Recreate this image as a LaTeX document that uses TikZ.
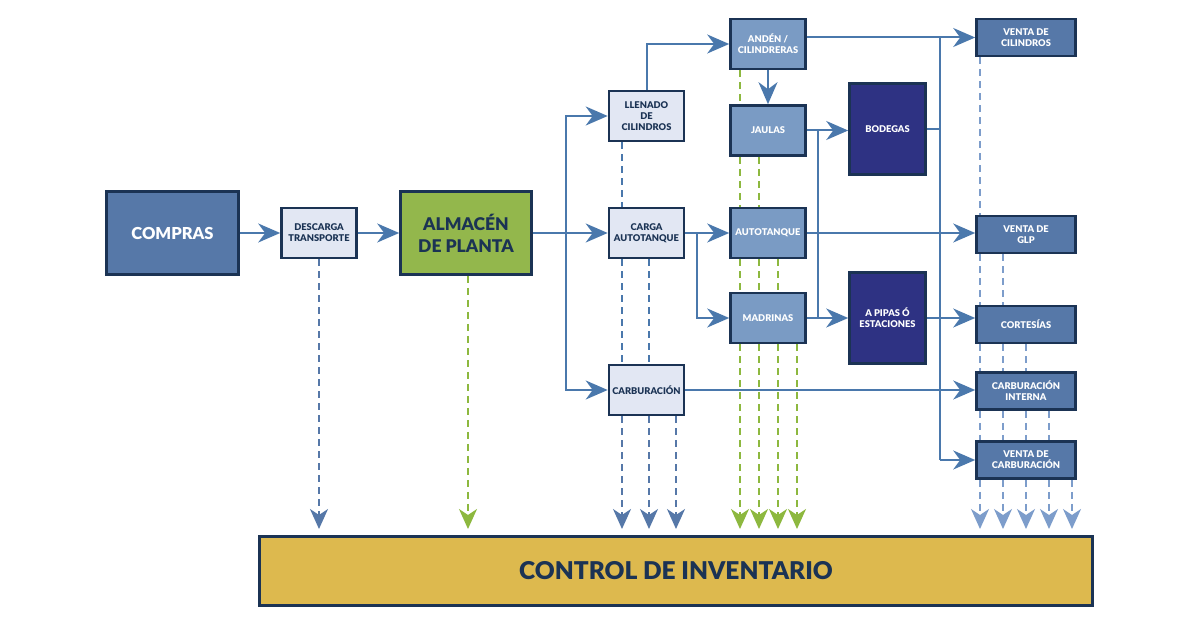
\documentclass[tikz,border=0pt]{standalone}
\usepackage{fontspec}
\setmainfont{Lato}[BoldFont={Lato Black}]
\usetikzlibrary{arrows.meta}
\definecolor{navy}{HTML}{1B3354}
\definecolor{mblue}{HTML}{5678A8}
\definecolor{lblue}{HTML}{7A9BC4}
\definecolor{pale}{HTML}{E2E7F3}
\definecolor{deep}{HTML}{2E3283}
\definecolor{leaf}{HTML}{93B74C}
\definecolor{dgreen}{HTML}{8DB83F}
\definecolor{mustard}{HTML}{DDB94E}
\definecolor{cblue}{HTML}{4A78AC}
\definecolor{rblue}{HTML}{7D9DCB}
\begin{document}
\begin{tikzpicture}[x=1pt,y=-1pt,
  bx/.style={draw=navy, line width=2.6pt, inner sep=0pt, align=center,
    font=\bfseries\fontsize{9.3}{11}\selectfont},
  palebox/.style={bx, fill=pale, text=navy, minimum width=75, minimum height=50},
  lbbox/.style={bx, fill=lblue, text=white, minimum width=75, minimum height=50},
  deepbox/.style={bx, fill=deep, text=white, minimum width=76, minimum height=91},
  salebox/.style={bx, fill=mblue, text=white, minimum width=99, minimum height=37},
  tip/.style={-{Stealth[length=22pt,width=19pt,inset=7pt]}},
  ln/.style={draw=cblue, line width=2pt},
  conn/.style={ln, tip},
  dsh/.style={line width=1.8pt, dash pattern=on 7pt off 5pt},
  dblue/.style={dsh, draw=cblue},
  dgrn/.style={dsh, draw=dgreen},
  drb/.style={dsh, draw=rblue},
  dtipb/.style={dsh, draw=mblue, -{Stealth[length=20pt,width=18pt,inset=6pt,fill=mblue]}},
  dtipg/.style={dsh, draw=dgreen, -{Stealth[length=20pt,width=18pt,inset=6pt,fill=dgreen]}},
  dtipr/.style={dsh, draw=rblue, -{Stealth[length=20pt,width=18pt,inset=6pt,fill=rblue]}}
]
\useasboundingbox (0,0) rectangle (1200,628);

% main nodes
\node[bx, fill=mblue, text=white, minimum width=132, minimum height=83,
  font=\bfseries\fontsize{16.5}{18}\selectfont] (compras) at (172.5,233) {COMPRAS};
\node[palebox] (desc) at (319,233) {DESCARGA\\TRANSPORTE};
\node[bx, fill=leaf, text=navy, minimum width=131, minimum height=83,
  font=\bfseries\fontsize{17.5}{22}\selectfont] (alm) at (466,233) {ALMACÉN\\DE PLANTA};

\node[palebox] (llen) at (646.5,116) {LLENADO\\DE\\CILINDROS};
\node[palebox] (carga) at (646.5,233) {CARGA\\AUTOTANQUE};
\node[palebox] (carb) at (646.5,390) {CARBURACIÓN};

\node[lbbox] (anden) at (768,44) {ANDÉN /\\CILINDRERAS};
\node[lbbox] (jaulas) at (768,130.5) {JAULAS};
\node[lbbox] (autot) at (768,233) {AUTOTANQUE};
\node[lbbox] (madr) at (768,318) {MADRINAS};

\node[deepbox] (bodegas) at (887.5,129) {BODEGAS};
\node[deepbox] (pipas) at (887.5,318) {A PIPAS Ó\\ESTACIONES};

\node[salebox] (vcil) at (1026,37.5) {VENTA DE\\CILINDROS};
\node[salebox] (vglp) at (1026,234.5) {VENTA DE\\GLP};
\node[salebox] (cort) at (1026,324.5) {CORTESÍAS};
\node[salebox] (cint) at (1026,391) {CARBURACIÓN\\INTERNA};
\node[salebox] (vcarb) at (1026,460) {VENTA DE\\CARBURACIÓN};

\node[bx, line width=2.8pt, fill=mustard, text=navy, minimum width=833, minimum height=69,
  font=\bfseries\fontsize{24.5}{30}\selectfont] (ctrl) at (676,571) {CONTROL DE INVENTARIO};

% junction coordinates
\coordinate (j1) at (566,233);
\coordinate (j2) at (697,233);
\coordinate (j3) at (818,130);
\coordinate (j4) at (818,318);
\coordinate (t1) at (940,38);
\coordinate (t2) at (940,460);

% solid connectors
\draw[conn] (compras) -- (desc);
\draw[conn] (desc) -- (alm);
\draw[conn] (alm) -- (carga);
\draw[conn] (j1) |- (llen.west);
\draw[conn] (j1) |- (carb.west);
\draw[conn] (llen.north) |- (anden.west);
\draw[conn] (anden) -- (jaulas);
\draw[conn] (carga) -- (autot);
\draw[conn] (j2) |- (madr.west);
\draw[conn] (jaulas.east) -- (jaulas.east -| bodegas.west);
\draw[ln] (j3) -- (j4);
\draw[conn] (madr) -- (pipas);
\draw[conn] (anden.east |- vcil) -- (vcil.west);
\draw[ln] (t1) -- (t2);
\draw[ln] (bodegas.east) -- (bodegas.east -| t1);
\draw[conn] (autot.east) -- (autot.east -| vglp.west);
\draw[conn] (pipas.east) -- (pipas.east -| cort.west);
\draw[conn] (carb.east) -- (carb.east -| cint.west);
\draw[conn] (t2) -- (vcarb.west);

% dashed: descarga / almacen
\coordinate (e1) at (319,529);
\coordinate (e2) at (468,529);
\draw[dtipb] (desc.south) -- (e1);
\draw[dtipg] (alm.south -| e2) -- (e2);

% dashed: blue column group
\draw[dblue] ([xshift=-24.5pt]llen.south) -- ([xshift=-24.5pt]carga.north);
\draw[dblue] ([xshift=-24.5pt]carga.south) -- ([xshift=-24.5pt]carb.north);
\draw[dblue] ([xshift=2.5pt]carga.south) -- ([xshift=2.5pt]carb.north);
\coordinate (b1) at (622,529);
\coordinate (b2) at (649,529);
\coordinate (b3) at (676,529);
\draw[dtipb] (carb.south -| b1) -- (b1);
\draw[dtipb] (carb.south -| b2) -- (b2);
\draw[dtipb] (carb.south -| b3) -- (b3);

% dashed: green column group
\draw[dgrn] ([xshift=-28pt]anden.south) -- ([xshift=-28pt]jaulas.north);
\foreach \s in {-28,-9}{
  \draw[dgrn] ([xshift=\s pt]jaulas.south) -- ([xshift=\s pt]autot.north);}
\foreach \s in {-28,-9,10}{
  \draw[dgrn] ([xshift=\s pt]autot.south) -- ([xshift=\s pt]madr.north);}
\coordinate (g1) at (740,529);
\coordinate (g2) at (759,529);
\coordinate (g3) at (778,529);
\coordinate (g4) at (797,529);
\draw[dtipg] (madr.south -| g1) -- (g1);
\draw[dtipg] (madr.south -| g2) -- (g2);
\draw[dtipg] (madr.south -| g3) -- (g3);
\draw[dtipg] (madr.south -| g4) -- (g4);

% dashed: right column group
\draw[drb] ([xshift=-46pt]vcil.south) -- ([xshift=-46pt]vglp.north);
\foreach \s in {-46,-23}{
  \draw[drb] ([xshift=\s pt]vglp.south) -- ([xshift=\s pt]cort.north);}
\foreach \s in {-46,-23,0}{
  \draw[drb] ([xshift=\s pt]cort.south) -- ([xshift=\s pt]cint.north);}
\foreach \s in {-46,-23,0,23}{
  \draw[drb] ([xshift=\s pt]cint.south) -- ([xshift=\s pt]vcarb.north);}
\coordinate (r1) at (980,529);
\coordinate (r2) at (1003,529);
\coordinate (r3) at (1026,529);
\coordinate (r4) at (1049,529);
\coordinate (r5) at (1072,529);
\draw[dtipr] (vcarb.south -| r1) -- (r1);
\draw[dtipr] (vcarb.south -| r2) -- (r2);
\draw[dtipr] (vcarb.south -| r3) -- (r3);
\draw[dtipr] (vcarb.south -| r4) -- (r4);
\draw[dtipr] (vcarb.south -| r5) -- (r5);
\end{tikzpicture}
\end{document}
